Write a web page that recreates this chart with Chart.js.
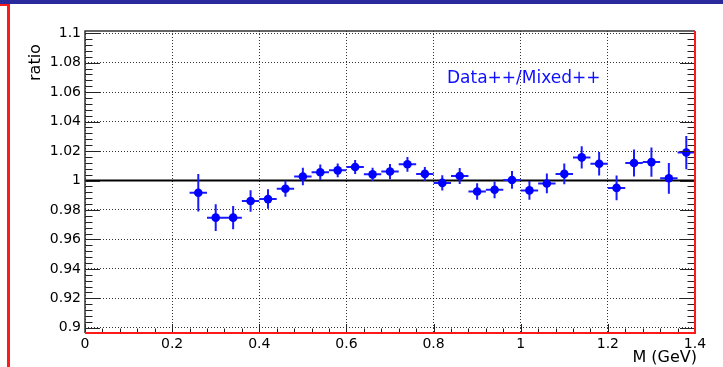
<!DOCTYPE html>
<html>
<head>
<meta charset="utf-8">
<script src="https://cdn.jsdelivr.net/npm/chart.js@4.4.1/dist/chart.umd.min.js"></script>
<style>
  html, body { margin: 0; padding: 0; background: #fff; }
  .chart { position: relative; width: 723px; height: 367px; }
</style>
</head>
<body>
<div class="chart"><canvas id="ratioChart"></canvas></div>
<script>
// bin centres (GeV) and the Data++/Mixed++ ratio
const mass = [0.26, 0.30, 0.34, 0.38, 0.42, 0.46, 0.50, 0.54, 0.58, 0.62,
              0.66, 0.70, 0.74, 0.78, 0.82, 0.86, 0.90, 0.94, 0.98, 1.02,
              1.06, 1.10, 1.14, 1.18, 1.22, 1.26, 1.30, 1.34, 1.38];
const ratio = [0.9917, 0.9748, 0.9748, 0.9861, 0.9874, 0.9944, 1.0027, 1.0056, 1.0069, 1.0092,
               1.0042, 1.0061, 1.0110, 1.0045, 0.9984, 1.0031, 0.9926, 0.9937, 1.0004, 0.9933,
               0.9980, 1.0045, 1.0157, 1.0114, 0.9950, 1.0119, 1.0125, 1.0015, 1.0190];
const ratioErr = [0.0128, 0.0091, 0.0079, 0.0073, 0.0066, 0.0054, 0.0059, 0.0052, 0.0047, 0.0048,
                  0.0045, 0.0052, 0.0050, 0.0047, 0.0052, 0.0054, 0.0056, 0.0057, 0.0060, 0.0063,
                  0.0067, 0.0070, 0.0076, 0.0080, 0.0084, 0.0091, 0.0099, 0.0104, 0.0113];
const binHalfWidth = 0.02;

// reference line at ratio = 1
const refX = [0, 1.4];
const refY = [1, 1];

const xTicks = [0, 0.2, 0.4, 0.6, 0.8, 1, 1.2, 1.4];
const yTicks = [0.9, 0.92, 0.94, 0.96, 0.98, 1, 1.02, 1.04, 1.06, 1.08, 1.1];

const legendText = "Data++/Mixed++";
const xTitle = "M (GeV)";
const yTitle = "ratio";

const FONT = "'DejaVu Sans', sans-serif";

const subTicks = (ticks, n) => {
  const out = [];
  for (let i = 0; i < ticks.length - 1; i++) {
    const step = (ticks[i + 1] - ticks[i]) / n;
    for (let k = 1; k < n; k++) out.push(ticks[i] + k * step);
  }
  return out;
};

const fmt = (v) => String(+v.toFixed(2));

// error bars drawn just before the markers
const errorBars = {
  id: "errorBars",
  beforeDatasetDraw(chart, args) {
    if (args.index !== 0) return;
    const { ctx, scales: { x, y } } = chart;
    ctx.save();
    ctx.strokeStyle = "#1a1aff";
    ctx.lineWidth = 2;
    ctx.beginPath();
    mass.forEach((m, i) => {
      const px = x.getPixelForValue(m);
      const py = y.getPixelForValue(ratio[i]);
      ctx.moveTo(x.getPixelForValue(m - binHalfWidth), py);
      ctx.lineTo(x.getPixelForValue(m + binHalfWidth), py);
      ctx.moveTo(px, y.getPixelForValue(ratio[i] - ratioErr[i]));
      ctx.lineTo(px, y.getPixelForValue(ratio[i] + ratioErr[i]));
    });
    ctx.stroke();
    ctx.restore();
  },
};

// ROOT-like frame: inner ticks, red highlighted edges, titles
const frame = {
  id: "frame",
  afterDraw(chart) {
    const { ctx, chartArea: a, scales: { x, y } } = chart;
    ctx.save();

    ctx.strokeStyle = "#222";
    ctx.lineWidth = 1;
    ctx.beginPath();
    const yTick = (v, len) => {
      const py = Math.round(y.getPixelForValue(v)) + 0.5;
      ctx.moveTo(a.left, py); ctx.lineTo(a.left + len, py);
      ctx.moveTo(a.right, py); ctx.lineTo(a.right - len, py);
    };
    yTicks.forEach((v) => yTick(v, 15));
    subTicks(yTicks, 5).forEach((v) => yTick(v, 7.5));
    const xTick = (v, len) => {
      const px = Math.round(x.getPixelForValue(v)) + 0.5;
      ctx.moveTo(px, a.bottom); ctx.lineTo(px, a.bottom - len);
    };
    xTicks.forEach((v) => xTick(v, 9));
    subTicks(xTicks, 5).forEach((v) => xTick(v, 4.5));
    ctx.stroke();

    ctx.strokeStyle = "#333";
    ctx.lineWidth = 1.5;
    ctx.beginPath();
    ctx.moveTo(a.left, a.bottom);
    ctx.lineTo(a.left, a.top);
    ctx.lineTo(a.right, a.top);
    ctx.stroke();

    ctx.strokeStyle = "#ff1a1a";
    ctx.lineWidth = 2;
    ctx.beginPath();
    ctx.moveTo(a.left, a.bottom);
    ctx.lineTo(a.right, a.bottom);
    ctx.lineTo(a.right, a.top);
    ctx.stroke();

    ctx.fillStyle = "#ff1a1a";
    ctx.fillRect(7, 4, 3, 363);
    ctx.fillRect(0, 4, 9, 2);
    ctx.fillStyle = "#2a2a9c";
    ctx.fillRect(0, 0, 723, 4);

    ctx.fillStyle = "#000";
    ctx.font = "16px " + FONT;
    ctx.textBaseline = "alphabetic";
    ctx.textAlign = "right";
    ctx.fillText(xTitle, 697, 362);

    ctx.save();
    ctx.translate(40, 81);
    ctx.rotate(-Math.PI / 2);
    ctx.textAlign = "left";
    ctx.fillText(yTitle, 0, 0);
    ctx.restore();

    ctx.font = "17px " + FONT;
    ctx.fillStyle = "#1010ff";
    ctx.textAlign = "left";
    ctx.fillText(legendText, 447, 83);

    ctx.restore();
  },
};

const gridDots = {
  color: "rgba(0,0,0,0.8)",
  lineWidth: 1,
  drawTicks: false,
};

const ctx = document.getElementById("ratioChart").getContext("2d");
new Chart(ctx, {
  type: "scatter",
  data: {
    datasets: [
      {
        label: legendText,
        data: mass.map((m, i) => ({ x: m, y: ratio[i] })),
        pointRadius: 4.3,
        pointBackgroundColor: "#0000ff",
        pointBorderWidth: 0,
      },
      {
        label: "ref",
        data: refX.map((v, i) => ({ x: v, y: refY[i] })),
        showLine: true,
        borderColor: "#000",
        borderWidth: 2,
        pointRadius: 0,
      },
    ],
  },
  options: {
    responsive: true,
    maintainAspectRatio: false,
    animation: false,
    layout: { padding: { left: 0, top: 31, right: 28, bottom: 0 } },
    plugins: {
      legend: { display: false },
      tooltip: { enabled: false },
    },
    scales: {
      x: {
        type: "linear",
        min: 0,
        max: 1.4,
        grid: gridDots,
        border: { display: false, dash: [1, 2] },
        afterBuildTicks: (s) => { s.ticks = xTicks.map((v) => ({ value: v })); },
        afterFit: (s) => { s.height = 34; },
        ticks: {
          color: "#000",
          padding: 3,
          maxRotation: 0,
          font: { family: FONT, size: 14 },
          callback: fmt,
        },
      },
      y: {
        type: "linear",
        min: 0.8965,
        max: 1.1015,
        grid: gridDots,
        border: { display: false, dash: [1, 2] },
        afterBuildTicks: (s) => { s.ticks = yTicks.map((v) => ({ value: v })); },
        afterFit: (s) => { s.width = 85; },
        ticks: {
          color: "#000",
          padding: 4,
          font: { family: FONT, size: 14 },
          callback: fmt,
        },
      },
    },
  },
  plugins: [errorBars, frame],
});
</script>
</body>
</html>
